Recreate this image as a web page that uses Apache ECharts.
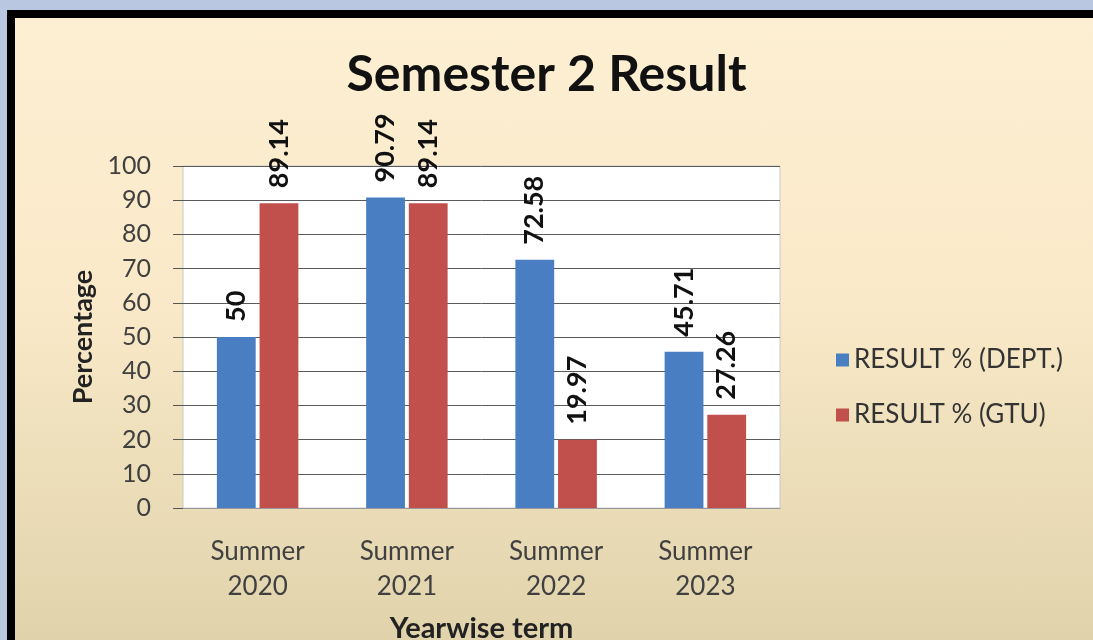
<!DOCTYPE html>
<html>
<head>
<meta charset="utf-8">
<script src="https://cdn.jsdelivr.net/npm/echarts@6/dist/echarts.min.js"></script>
<style>
  html, body { margin: 0; padding: 0; width: 1093px; height: 640px; overflow: hidden; background: #b9c8e0; }
  #frame {
    position: absolute; left: 7px; top: 10px; width: 1081px; height: 640px;
    border-left: 8px solid #000; border-top: 8px solid #000;
    background: linear-gradient(to bottom, #fdefd3 0%, #f9e9c8 45%, #dfd2aa 100%);
  }
  #chart { position: absolute; left: 0; top: 0; width: 1093px; height: 640px; }
</style>
</head>
<body>
<div id="frame"></div>
<div id="chart"></div>
<script>
  // 데이터
  const terms = ['Summer\n2020', 'Summer\n2021', 'Summer\n2022', 'Summer\n2023']
  const deptResult = [50, 90.79, 72.58, 45.71]
  const gtuResult = [89.14, 89.14, 19.97, 27.26]

  const fontFamily = 'Lato, "Open Sans", sans-serif'

  const chart = echarts.init(document.getElementById('chart'))

  const barLabel = {
    show: true,
    position: 'top',
    rotate: 90,
    align: 'left',
    verticalAlign: 'middle',
    distance: 15,
    fontSize: 27,
    fontWeight: 'bold',
    color: '#111',
    fontFamily
  }

  const option = {
    backgroundColor: 'transparent',
    title: {
      text: 'Semester 2 Result',
      left: 'center',
      top: 45,
      textStyle: { fontSize: 50, fontWeight: 'bold', color: '#111', fontFamily }
    },
    legend: {
      orient: 'vertical',
      left: 831,
      top: 342,
      itemWidth: 13,
      itemHeight: 13,
      itemGap: 29,
      icon: 'rect',
      textStyle: { fontSize: 26, color: '#333', fontFamily }
    },
    grid: {
      left: 183,
      right: 313,
      top: 166,
      bottom: 132,
      outerBoundsMode: 'none',
      containLabel: false,
      show: true,
      backgroundColor: '#fff',
      borderColor: '#c8c8c8',
      borderWidth: 1
    },
    xAxis: {
      type: 'category',
      data: terms,
      name: 'Yearwise term',
      nameLocation: 'middle',
      nameGap: 106,
      nameTextStyle: { fontSize: 29, fontWeight: 'bold', color: '#222', fontFamily },
      axisLine: { lineStyle: { color: '#999' } },
      axisTick: { show: false },
      axisLabel: { fontSize: 26, color: '#404040', lineHeight: 35, margin: 26, fontFamily }
    },
    yAxis: {
      type: 'value',
      min: 0,
      max: 100,
      interval: 10,
      name: 'Percentage',
      nameLocation: 'middle',
      nameGap: 86,
      nameTextStyle: { fontSize: 27, fontWeight: 'bold', color: '#222', fontFamily },
      axisLine: { show: false },
      axisTick: { show: true, length: 10, lineStyle: { color: '#555' } },
      axisLabel: { fontSize: 25, color: '#404040', margin: 32, fontFamily },
      splitLine: { lineStyle: { color: '#5a5a5a', width: 1 } }
    },
    series: [
      {
        name: 'RESULT % (DEPT.)',
        type: 'bar',
        data: deptResult,
        barWidth: '26%',
        barGap: '10%',
        itemStyle: { color: '#4a7ec2' },
        label: barLabel
      },
      {
        name: 'RESULT % (GTU)',
        type: 'bar',
        data: gtuResult,
        barWidth: '26%',
        barGap: '10%',
        itemStyle: { color: '#c14f4c' },
        label: barLabel
      }
    ]
  }

  chart.setOption(option)
</script>
</body>
</html>
